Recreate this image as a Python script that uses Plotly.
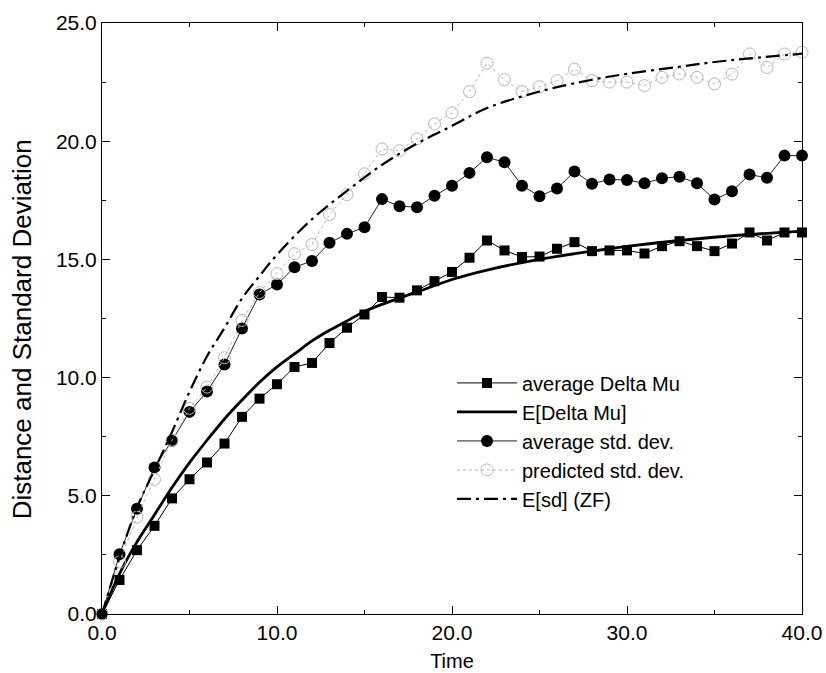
import plotly.graph_objects as go

# Sampled times for the simulated series
time = list(range(0, 41))

avg_delta_mu = [0.0, 1.44, 2.7, 3.73, 4.89, 5.7, 6.41, 7.21, 8.34, 9.11,
                9.72, 10.45, 10.62, 11.46, 12.11, 12.67, 13.41, 13.38, 13.69, 14.08,
                14.47, 15.07, 15.8, 15.38, 15.1, 15.12, 15.45, 15.73, 15.35, 15.38,
                15.38, 15.25, 15.56, 15.77, 15.56, 15.35, 15.67, 16.14, 15.8, 16.14,
                16.14]

avg_sd = [0.0, 2.53, 4.45, 6.2, 7.33, 8.55, 9.41, 10.55, 12.08, 13.52,
          13.94, 14.67, 14.93, 15.7, 16.08, 16.36, 17.55, 17.25, 17.21, 17.69,
          18.12, 18.66, 19.32, 19.11, 18.12, 17.67, 18.0, 18.72, 18.2, 18.38,
          18.36, 18.22, 18.43, 18.5, 18.22, 17.53, 17.88, 18.59, 18.45, 19.39,
          19.39]

predicted_sd = [0.0, 2.2, 4.1, 5.69, 7.35, 8.7, 9.6, 10.84, 12.42, 13.6,
                14.4, 15.24, 15.63, 16.9, 17.74, 18.62, 19.67, 19.6, 20.1, 20.73,
                21.2, 22.1, 23.3, 22.6, 22.1, 22.3, 22.56, 23.05, 22.56, 22.5,
                22.5, 22.35, 22.7, 22.84, 22.7, 22.42, 22.84, 23.69, 23.12, 23.69,
                23.76]

# Expected curves
exp_mu_t = [0, 1, 2, 3, 4, 5, 6, 7, 8, 9, 10, 11, 12, 13, 14, 15, 16, 18, 20,
            22, 25, 28, 30, 33, 36, 40]
exp_mu = [0.0, 1.7, 3.05, 4.2, 5.35, 6.4, 7.35, 8.25, 9.05, 9.8, 10.45, 11.0,
          11.55, 12.0, 12.4, 12.8, 13.1, 13.62, 14.15, 14.55, 15.0, 15.35,
          15.55, 15.8, 16.0, 16.2]

exp_sd_t = [0, 1, 2, 3, 4, 5, 6, 7, 8, 9, 10, 12, 14, 16, 18, 20, 22, 25, 28,
            30, 33, 35, 37, 40]
exp_sd = [0.0, 2.4, 4.5, 6.1, 7.7, 9.4, 10.9, 12.1, 13.35, 14.3, 15.2, 16.7,
          17.9, 19.0, 19.9, 20.65, 21.4, 22.1, 22.6, 22.85, 23.15, 23.35,
          23.5, 23.7]

x_ticks = [0, 10, 20, 30, 40]
y_ticks = [0, 5, 10, 15, 20, 25]

FONT = "Liberation Sans, Arial, Helvetica, sans-serif"

fig = go.Figure()

fig.add_trace(go.Scatter(
    x=time, y=avg_delta_mu, name="average Delta Mu", mode="lines+markers",
    line=dict(color="black", width=1),
    marker=dict(symbol="square", size=10, color="black"),
    cliponaxis=False,
))
fig.add_trace(go.Scatter(
    x=exp_mu_t, y=exp_mu, name="E[Delta Mu]", mode="lines",
    line=dict(color="black", width=2.8, shape="spline"),
))
fig.add_trace(go.Scatter(
    x=time, y=avg_sd, name="average std. dev.", mode="lines+markers",
    line=dict(color="#222222", width=1),
    marker=dict(symbol="circle", size=12, color="black"),
    cliponaxis=False,
))
fig.add_trace(go.Scatter(
    x=time, y=predicted_sd, name="predicted std. dev.", mode="lines+markers",
    line=dict(color="#b8b8b8", width=1, dash="dot"),
    marker=dict(symbol="circle-open", size=12, color="#b8b8b8",
                line=dict(width=1, color="#b8b8b8")),
    cliponaxis=False,
))
fig.add_trace(go.Scatter(
    x=exp_sd_t, y=exp_sd, name="E[sd] (ZF)", mode="lines",
    line=dict(color="black", width=2.2, dash="14px,5px,3px,5px", shape="spline"),
))

axis_common = dict(
    showline=True, linecolor="black", linewidth=1, mirror="ticks",
    ticks="inside", ticklen=8, tickwidth=1, tickcolor="black",
    showgrid=False, zeroline=False, tickformat=".1f", automargin=False,
    tickfont=dict(family=FONT, size=21, color="black"),
)

fig.update_xaxes(
    range=[0, 40], tickvals=x_ticks,
    minor=dict(dtick=5, ticks="inside", ticklen=4, tickcolor="black", showgrid=False),
    title=dict(text="Time", font=dict(family=FONT, size=20, color="black"), standoff=10),
    **axis_common,
)
fig.update_yaxes(
    range=[0, 25], tickvals=y_ticks,
    minor=dict(dtick=2.5, ticks="inside", ticklen=4, tickcolor="black", showgrid=False),
    **axis_common,
)

# Vertical axis title placed as an annotation
fig.add_annotation(
    text="Distance and Standard Deviation", textangle=-90,
    xref="paper", yref="paper", x=-0.114, y=0.482,
    xanchor="center", yanchor="middle", showarrow=False,
    font=dict(family=FONT, size=26, color="black"),
)

fig.update_layout(
    width=826, height=673,
    margin=dict(l=102, r=24, t=23, b=59),
    paper_bgcolor="white", plot_bgcolor="white",
    font=dict(family=FONT, color="black"),
    legend=dict(
        x=0.5, y=0.424, xanchor="left", yanchor="top",
        bgcolor="rgba(0,0,0,0)", borderwidth=0,
        font=dict(family=FONT, size=20, color="black"),
        itemwidth=60, tracegroupgap=0,
    ),
)

fig.write_html("out.html")
